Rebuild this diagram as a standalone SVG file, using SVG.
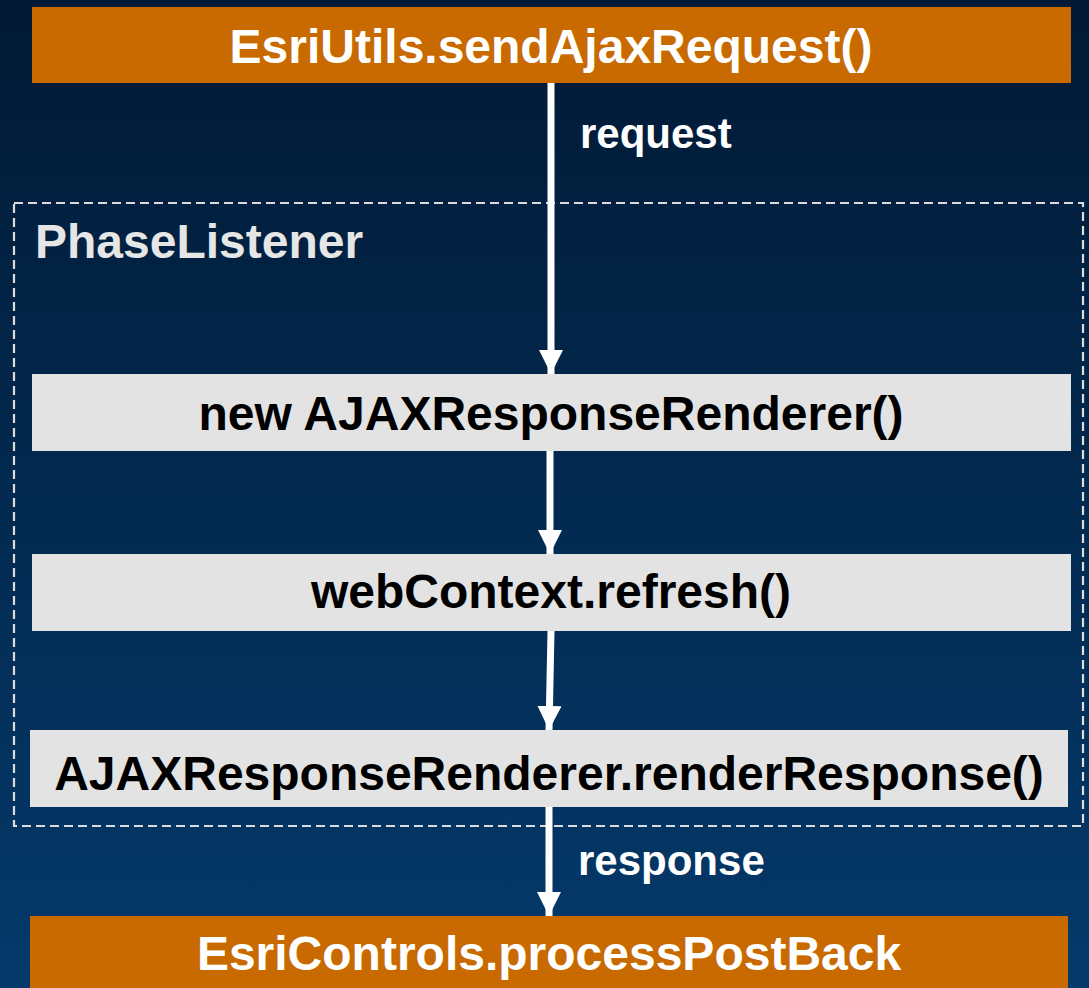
<svg xmlns="http://www.w3.org/2000/svg" width="1089" height="988" viewBox="0 0 1089 988">
<style>
.t{font-family:"Liberation Sans",Arial,sans-serif;font-weight:bold;text-anchor:middle}
.s{text-anchor:start}
.w{fill:#ffffff}
.k{fill:#000000}
.orange{fill:#c86a00}
.grey{fill:#e3e3e3}
.conn{stroke:#ffffff;stroke-width:7;fill:none}
</style>
<defs>
<linearGradient id="bg" x1="0" y1="0" x2="0" y2="1">
<stop offset="0" stop-color="#011934"/>
<stop offset="1" stop-color="#043a6b"/>
</linearGradient>
<marker id="ah" viewBox="0 0 24 24" refX="24" refY="12" markerWidth="24" markerHeight="24" markerUnits="userSpaceOnUse" orient="auto">
<path d="M0,0 L24,12 L0,24 Z" fill="#ffffff"/>
</marker>
</defs>
<rect x="0" y="0" width="1089" height="988" fill="url(#bg)"/>
<g id="phaseListener">
<rect x="14" y="203" width="1069" height="623" fill="none" stroke="#dcdcdc" stroke-width="2.2" stroke-dasharray="9 5"/>
<text class="t s" x="35" y="258" font-size="48" fill="#e6e6e6">PhaseListener</text>
</g>
<g id="connectors">
<line class="conn" x1="551" y1="83" x2="551" y2="374" marker-end="url(#ah)"/>
<line class="conn" x1="550" y1="451" x2="550" y2="554" marker-end="url(#ah)"/>
<line class="conn" x1="551" y1="631" x2="549" y2="730" marker-end="url(#ah)"/>
<line class="conn" x1="549" y1="807" x2="549" y2="916" marker-end="url(#ah)"/>
<text class="t s w" x="580" y="148" font-size="42">request</text>
<text class="t s w" x="578" y="875" font-size="42">response</text>
</g>
<g id="sendAjax">
<rect class="orange" x="32" y="7" width="1039" height="76"/>
<text class="t w" x="551" y="63" font-size="48">EsriUtils.sendAjaxRequest()</text>
</g>
<g id="newRenderer">
<rect class="grey" x="32" y="374" width="1039" height="77"/>
<text class="t k" x="551" y="430" font-size="48">new AJAXResponseRenderer()</text>
</g>
<g id="refresh">
<rect class="grey" x="32" y="554" width="1039" height="77"/>
<text class="t k" x="551" y="608" font-size="48">webContext.refresh()</text>
</g>
<g id="renderResponse">
<rect class="grey" x="30" y="730" width="1038" height="77"/>
<text class="t k" x="549" y="790" font-size="48">AJAXResponseRenderer.renderResponse()</text>
</g>
<g id="processPostBack">
<rect class="orange" x="30" y="916" width="1038" height="80"/>
<text class="t w" x="549" y="970" font-size="48">EsriControls.processPostBack</text>
</g>
</svg>
